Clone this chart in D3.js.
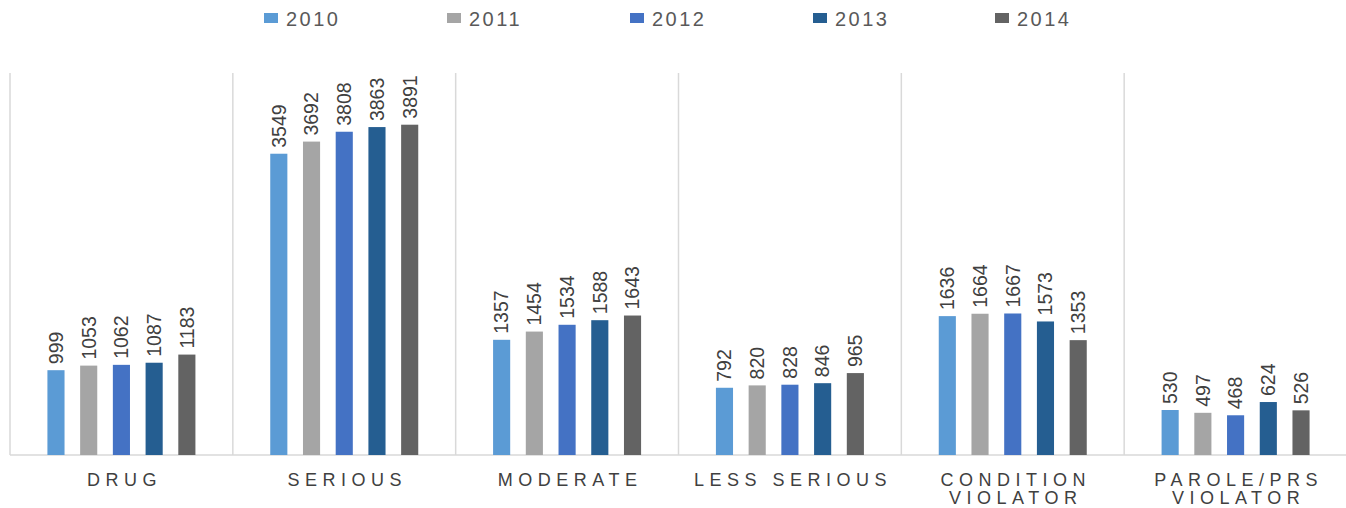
<!DOCTYPE html>
<html><head>
<meta charset="utf-8">
<script src="https://d3js.org/d3.v7.min.js"></script>
<style>
  body { margin: 0; background: #fff; }
  text { font-family: "Liberation Sans", Arial, sans-serif; }
  .sep { stroke: #D9D9D9; stroke-width: 1.5px; }
</style>
</head>
<body>
<svg id="chart" width="1346" height="508"></svg>
<script>
  // data
  const categories = ["DRUG", "SERIOUS", "MODERATE", "LESS SERIOUS", "CONDITION VIOLATOR", "PAROLE/PRS VIOLATOR"];
  const catLines = [["DRUG"], ["SERIOUS"], ["MODERATE"], ["LESS SERIOUS"], ["CONDITION", "VIOLATOR"], ["PAROLE/PRS", "VIOLATOR"]];
  const years = ["2010", "2011", "2012", "2013", "2014"];
  const colors = ["#5B9BD5", "#A5A5A5", "#4472C4", "#255E91", "#636363"];
  const v2010 = [999, 3549, 1357, 792, 1636, 530];
  const v2011 = [1053, 3692, 1454, 820, 1664, 497];
  const v2012 = [1062, 3808, 1534, 828, 1667, 468];
  const v2013 = [1087, 3863, 1588, 846, 1573, 624];
  const v2014 = [1183, 3891, 1643, 965, 1353, 526];
  const series = [v2010, v2011, v2012, v2013, v2014];

  const svg = d3.select("#chart");
  const plotLeft = 10, plotRight = 1347, plotTop = 73, base = 455;

  const x0 = d3.scaleBand().domain(categories).range([plotLeft, plotRight]).padding(0);
  const bw = x0.bandwidth();
  const x1 = d3.scaleBand().domain(years).range([bw / 2 - 74, bw / 2 + 74]).paddingInner(0.477).paddingOuter(0);
  const y = d3.scaleLinear().domain([0, 4500]).range([base, plotTop]);
  const color = d3.scaleOrdinal().domain(years).range(colors);

  // separators between categories
  const seps = categories.map(c => x0(c)).concat([x0(categories[5]) + bw]);
  svg.selectAll("line.sep").data(seps)
    .join("line").attr("class", "sep")
    .attr("x1", d => d).attr("x2", d => d)
    .attr("y1", plotTop).attr("y2", base);
  svg.append("line").attr("class", "sep")
    .attr("x1", plotLeft).attr("x2", plotRight).attr("y1", base).attr("y2", base);

  const rows = [];
  categories.forEach((c, i) => years.forEach((yr, j) => rows.push({ cat: c, year: yr, value: series[j][i] })));

  const g = svg.append("g");
  g.selectAll("rect").data(rows)
    .join("rect")
    .attr("x", d => x0(d.cat) + x1(d.year))
    .attr("width", x1.bandwidth())
    .attr("y", d => y(d.value))
    .attr("height", d => base - y(d.value))
    .attr("fill", d => color(d.year));

  g.selectAll("text.val").data(rows)
    .join("text").attr("class", "val")
    .attr("transform", d => "translate(" + (x0(d.cat) + x1(d.year) + x1.bandwidth() / 2) + "," + (y(d.value) - 6) + ") rotate(-90)")
    .attr("dy", "0.35em")
    .attr("font-size", 19.5)
    .attr("fill", "#404040")
    .text(d => d.value);

  // category labels
  categories.forEach((c, i) => {
    catLines[i].forEach((ln, k) => {
      svg.append("text")
        .attr("x", x0(c) + bw / 2 + 3)
        .attr("y", 486 + k * 18)
        .attr("text-anchor", "middle")
        .attr("font-size", 18)
        .attr("letter-spacing", "5.5px")
        .attr("fill", "#404040")
        .text(ln);
    });
  });

  // legend
  const lx = d3.scaleOrdinal().domain(years).range([264, 447, 630, 813, 995]);
  const leg = svg.selectAll("g.leg").data(years).join("g").attr("class", "leg")
    .attr("transform", d => "translate(" + lx(d) + ",0)");
  leg.append("rect").attr("x", 0).attr("y", 13).attr("width", 14).attr("height", 10).attr("fill", d => color(d));
  leg.append("text").attr("x", 22).attr("y", 25.7)
    .attr("font-size", 20).attr("letter-spacing", "2.5px")
    .attr("fill", "#595959").text(d => d);
</script>
</body></html>
